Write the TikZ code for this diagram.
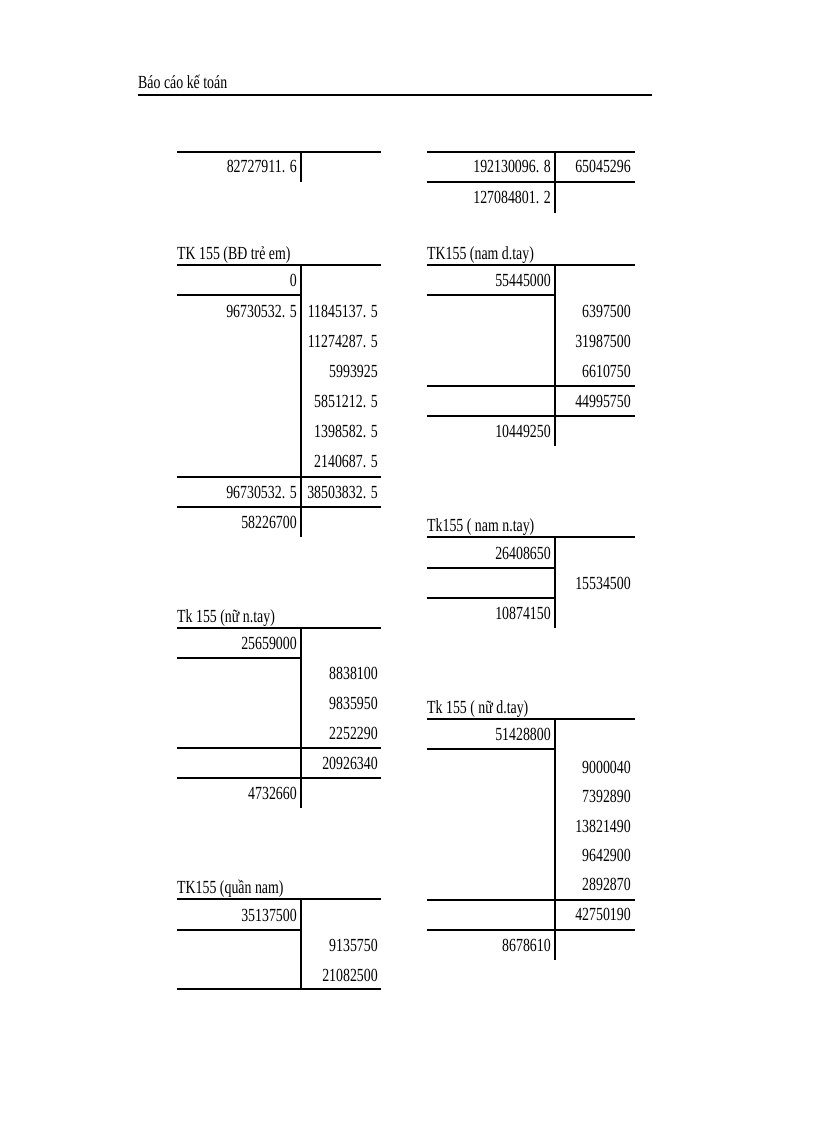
\documentclass[tikz,border=0pt]{standalone}
\usepackage{fontspec}
\setmainfont{Liberation Serif}[FakeStretch=0.75]
\begin{document}
\begin{tikzpicture}[x=1pt,y=-1pt,
  num/.style={inner sep=0pt,anchor=base east,font=\fontsize{18.5}{18.5}\selectfont},
  ttl/.style={inner sep=0pt,anchor=base west,font=\fontsize{18.5}{18.5}\selectfont},
  rl/.style={line width=1.2pt}]
\useasboundingbox (0,0) rectangle (816,1123);
\node[ttl] (hdr) at (138,89) {Báo cáo kế toán};
\draw[line width=1.5pt] (138,95) -- (652,95);
% macros
\def\L#1#2{\node[num] at (297,#1+6) {#2};}
\def\R#1#2{\node[num] at (378,#1+6) {#2};}
\def\LL#1#2{\node[num] at (551,#1+6) {#2};}
\def\RR#1#2{\node[num] at (631,#1+6) {#2};}
% top left
\draw[rl] (177,152) -- (381,152); \draw[rl] (301,152) -- (301,182);
\L{167}{82727911. 6}
% top right
\draw[rl] (427,152) -- (635,152); \draw[rl] (427,182) -- (635,182); \draw[rl] (555,152) -- (555,213);
\LL{167}{192130096. 8}\RR{167}{65045296}\LL{198}{127084801. 2}
% TK 155 BD tre em
\node[ttl] at (177,259) {TK 155 (BĐ trẻ em)};
\draw[rl] (177,265) -- (381,265); \draw[rl] (177,295) -- (301,295);
\draw[rl] (177,477) -- (381,477); \draw[rl] (177,507) -- (381,507);
\draw[rl] (301,265) -- (301,537);
\L{280}{0}\L{311}{96730532. 5}
\R{311}{11845137. 5}\R{341}{11274287. 5}\R{371}{5993925}\R{401}{5851212. 5}\R{431}{1398582. 5}\R{461}{2140687. 5}
\L{492}{96730532. 5}\R{492}{38503832. 5}\L{522}{58226700}
% TK155 nam d.tay
\node[ttl] at (427,259) {TK155 (nam d.tay)};
\draw[rl] (427,265) -- (635,265); \draw[rl] (427,295) -- (555,295);
\draw[rl] (427,386) -- (635,386); \draw[rl] (427,416) -- (635,416);
\draw[rl] (555,265) -- (555,446);
\LL{280}{55445000}\RR{311}{6397500}\RR{341}{31987500}\RR{371}{6610750}\RR{401}{44995750}\LL{431}{10449250}
% Tk155 nam n.tay
\node[ttl] at (427,531) {Tk155 ( nam n.tay)};
\draw[rl] (427,537) -- (635,537); \draw[rl] (427,568) -- (555,568); \draw[rl] (427,598) -- (555,598);
\draw[rl] (555,537) -- (555,628);
\LL{553}{26408650}\RR{583}{15534500}\LL{613}{10874150}
% Tk 155 nu n.tay
\node[ttl] at (177,622) {Tk 155 (nữ n.tay)};
\draw[rl] (177,628) -- (381,628); \draw[rl] (177,658) -- (301,658);
\draw[rl] (177,748) -- (381,748); \draw[rl] (177,778) -- (381,778);
\draw[rl] (301,628) -- (301,808);
\L{643}{25659000}\R{673}{8838100}\R{703}{9835950}\R{733}{2252290}\R{763}{20926340}\L{793}{4732660}
% Tk 155 nu d.tay
\node[ttl] at (427,713) {Tk 155 ( nữ d.tay)};
\draw[rl] (427,719) -- (635,719); \draw[rl] (427,749) -- (555,749);
\draw[rl] (427,900) -- (635,900); \draw[rl] (427,930) -- (635,930);
\draw[rl] (555,719) -- (555,960);
\LL{734}{51428800}\RR{767}{9000040}\RR{796}{7392890}\RR{826}{13821490}\RR{855}{9642900}\RR{884}{2892870}\RR{914}{42750190}\LL{945}{8678610}
% TK155 quan nam
\node[ttl] at (177,893) {TK155 (quần nam)};
\draw[rl] (177,899) -- (381,899); \draw[rl] (177,930) -- (301,930);
\draw[rl] (177,989) -- (381,989);
\draw[rl] (301,899) -- (301,989);
\L{915}{35137500}\R{945}{9135750}\R{975}{21082500}
\end{tikzpicture}
\end{document}
